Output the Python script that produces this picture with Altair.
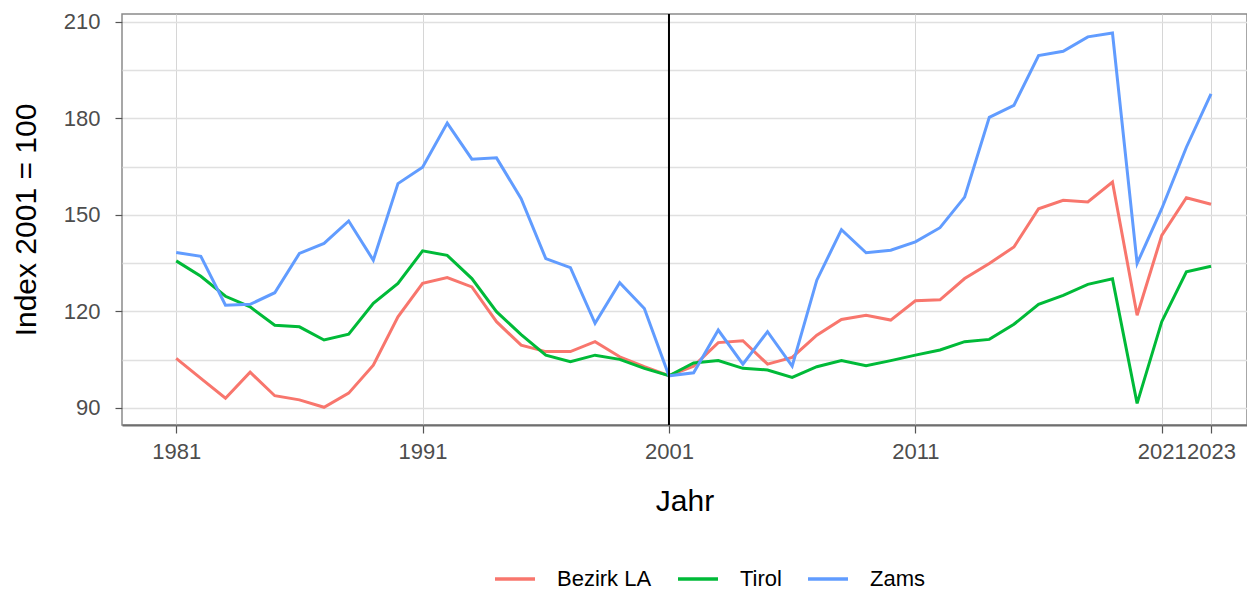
import altair as alt
import pandas as pd

years = [1981, 1982, 1983, 1984, 1985, 1986, 1987, 1988, 1989, 1990,
         1991, 1992, 1993, 1994, 1995, 1996, 1997, 1998, 1999, 2000,
         2001, 2002, 2003, 2004, 2005, 2006, 2007, 2008, 2009, 2010,
         2011, 2012, 2013, 2014, 2015, 2016, 2017, 2018, 2019, 2020,
         2021, 2022, 2023]

bezirk_la = [105.4, 99.2, 93.0, 101.1, 93.8, 92.5, 90.2, 94.6, 103.3, 118.3,
             128.7, 130.5, 127.6, 116.8, 109.5, 107.5, 107.5, 110.6, 105.9, 102.8,
             100.0, 103.0, 110.3, 110.9, 103.6, 105.7, 112.6, 117.5, 118.8, 117.3,
             123.3, 123.6, 130.2, 134.9, 140.0, 151.9, 154.5, 154.0, 160.2, 118.8,
             143.6, 155.3, 153.3]

tirol = [135.7, 130.9, 124.7, 121.4, 115.7, 115.2, 111.1, 112.9, 122.5, 128.7,
         138.8, 137.4, 130.2, 119.9, 112.8, 106.4, 104.4, 106.4, 105.1, 102.3,
         100.0, 104.0, 104.7, 102.3, 101.8, 99.5, 102.8, 104.7, 103.1, 104.7,
         106.4, 108.0, 110.6, 111.3, 116.0, 122.2, 125.0, 128.4, 130.1, 91.4,
         116.8, 132.3, 134.0]

zams = [138.3, 137.1, 121.9, 122.2, 125.8, 138.0, 141.1, 148.1, 135.9, 159.7,
        164.8, 178.5, 167.3, 167.7, 155.0, 136.4, 133.6, 116.3, 128.9, 120.9,
        100.0, 100.9, 114.2, 103.6, 113.7, 103.0, 129.7, 145.4, 138.2, 139.0,
        141.6, 146.0, 155.5, 180.3, 184.0, 199.5, 200.8, 205.3, 206.5, 134.9,
        151.9, 171.0, 187.6]

series_names = ["Bezirk LA", "Tirol", "Zams"]
series_colors = ["#F8766D", "#00BA38", "#619CFF"]
x_ticks = [1981, 1991, 2001, 2011, 2021, 2023]
y_grid = [90, 105, 120, 135, 150, 165, 180, 195, 210]
ref_year = [2001]

rows = []
for name, vals in zip(series_names, [bezirk_la, tirol, zams]):
    for yr, v in zip(years, vals):
        rows.append({"Jahr": yr, "Index": v, "Region": name})
df = pd.DataFrame(rows)

FONT = "Liberation Sans"

x_enc = alt.X(
    "Jahr:Q",
    scale=alt.Scale(domain=[1978.8, 2024.46], nice=False, zero=False),
    axis=alt.Axis(
        values=x_ticks, format="d", title="Jahr", labelOverlap=False,
        labelFontSize=22, labelColor="#4D4D4D", labelFont=FONT, labelPadding=8,
        tickSize=8, tickColor="#555555", tickWidth=1.2,
        domain=True, domainColor="#6E6E6E", domainWidth=2,
        grid=True, gridColor="#D6D6D6", gridWidth=1,
        titleFontSize=30, titleFont=FONT, titleColor="#000000",
        titleFontWeight="normal", titlePadding=24,
    ),
)

y_enc = alt.Y(
    "Index:Q",
    scale=alt.Scale(domain=[84.7, 212.4], nice=False, zero=False),
    axis=alt.Axis(
        values=y_grid, title="Index 2001 = 100",
        labelExpr="datum.value % 30 == 0 ? datum.label : ''",
        labelFontSize=22, labelColor="#4D4D4D", labelFont=FONT, labelPadding=15,
        tickSize=7, tickColor="#555555", tickWidth=1.2,
        tickOpacity={"condition": {"test": "datum.value % 30 == 0", "value": 1}, "value": 0},
        domain=False, grid=True, gridColor="#E0E0E0", gridWidth=1.5,
        titleFontSize=30, titleFont=FONT, titleColor="#000000",
        titleFontWeight="normal", titlePadding=22,
    ),
)

lines = alt.Chart(df).mark_line(strokeWidth=3).encode(
    x=x_enc,
    y=y_enc,
    color=alt.Color(
        "Region:N",
        scale=alt.Scale(domain=series_names, range=series_colors),
        legend=alt.Legend(
            title=None, orient="none", direction="horizontal",
            legendX=371, legendY=543,
            symbolType="stroke", symbolSize=1600, symbolStrokeWidth=3.5,
            labelFontSize=22, labelFont=FONT, labelColor="#000000",
            labelOffset=20, columnPadding=19,
        ),
    ),
    detail="Region:N",
)

rule = alt.Chart(pd.DataFrame({"Jahr": ref_year})).mark_rule(
    color="#000000", strokeWidth=2
).encode(x="Jahr:Q")

chart = alt.layer(lines, rule).properties(
    width=1125, height=411,
    autosize=alt.AutoSizeParams(type="none"),
    padding={"left": 114, "top": 6, "right": 0, "bottom": 166},
    background="#FFFFFF",
).configure_view(stroke="#8A8A8A", strokeWidth=1.5)

chart.save("out.html", embed_options={"renderer": "svg", "actions": False})
